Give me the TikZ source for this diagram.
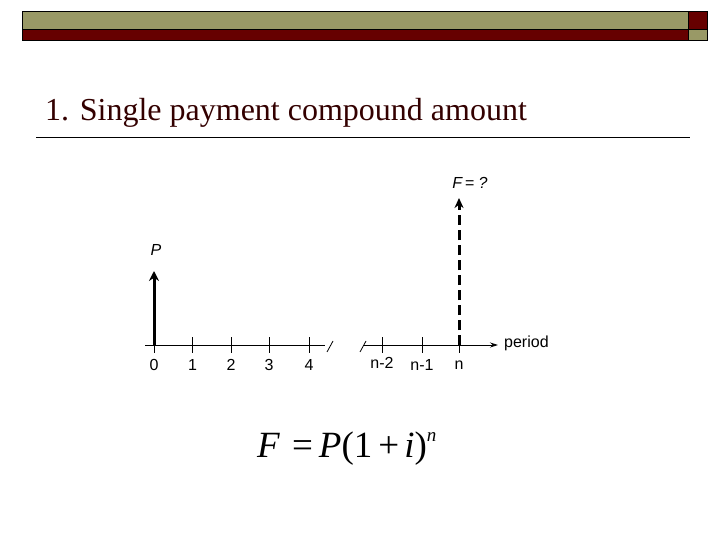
\documentclass[tikz,border=0pt]{standalone}
\usepackage{fontspec}
\setmainfont{Liberation Serif}
\setsansfont{Liberation Sans}
\usetikzlibrary{arrows.meta}
\definecolor{barkhaki}{RGB}{153,153,102}
\definecolor{barred}{RGB}{102,0,0}
\definecolor{titlered}{RGB}{51,0,0}
\begin{document}
\begin{tikzpicture}[x=1pt,y=-1pt,
    lbl/.style={font=\sffamily\fontsize{16}{18}\selectfont,inner sep=0pt},
    ilbl/.style={font=\sffamily\itshape\fontsize{16}{18}\selectfont,inner sep=0pt}]
      \useasboundingbox (0,0) rectangle (720,540);
      \draw[fill=barkhaki,line width=1pt] (22,12) rectangle (688,30);
      \draw[fill=barred,line width=1pt] (22,30) rectangle (688,41);
      \draw[fill=barred,line width=1pt] (688,12) rectangle (707,30);
      \draw[fill=barkhaki,line width=1pt] (688,30) rectangle (707,41);
      \node[anchor=base west,inner sep=0pt,text=titlered,font=\fontsize{32}{36}\selectfont] (title) at (45,121) {1. Single payment compound amount};
      \draw[line width=0.8pt] (36,137.5) -- (690,137.5);
      % time axis
      \coordinate (axA) at (145,345);
      \coordinate (axB) at (325,345);
      \coordinate (axC) at (364,345);
      \coordinate (axD) at (498,345);
      \draw[line width=0.8pt] (axA) -- (axB);
      \draw[line width=0.8pt] (327,352) -- (333,341);
      \draw[line width=0.8pt] (360,352) -- (366,341);
      \draw[line width=0.8pt,-{Stealth[length=8pt,width=5pt]}] (axC) -- (axD);
      \node[lbl,anchor=west] (period) at (504,343) {period};
      \foreach \x/\l/\n in {154/0/t0,192.5/1/t1,231/2/t2,269/3/t3,309/4/t4,422/n-1/tm1,459/n/tn}{
        \coordinate (\n) at (\x,345);
        \draw[line width=0.8pt] (\x,337) -- (\x,353);
        \node[lbl] (l\n) at (\x,365) {\l};
      }
      \coordinate (tm2) at (382,345);
      \draw[line width=0.8pt] (382,337) -- (382,353);
      \node[lbl] (ltm2) at (382,363) {n-2};
      % cash flows
      \coordinate (pTip) at (154,271);
      \coordinate (fTip) at (459,198);
      \draw[line width=3pt,-{Stealth[length=10pt,width=10pt]}] (t0) -- (pTip);
      \draw[line width=3pt,dash pattern=on 10pt off 5pt,-{Stealth[length=10pt,width=9pt]}] (tn) -- (fTip);
      \node[ilbl] (pLbl) at (156,250) {P};
      \node[ilbl] (fLbl) at (470,183) {F\,= ?};
      \node[anchor=base west,inner sep=0pt,font=\fontsize{37}{40}\selectfont] (formula) at (257,457)
        {\textit{F}\hspace{12pt}=\hspace{6pt}\textit{P}(1\hspace{6pt}+\hspace{5pt}\textit{i})\raisebox{16pt}{\fontsize{19}{20}\selectfont\textit{n}}};
\end{tikzpicture}
\end{document}
